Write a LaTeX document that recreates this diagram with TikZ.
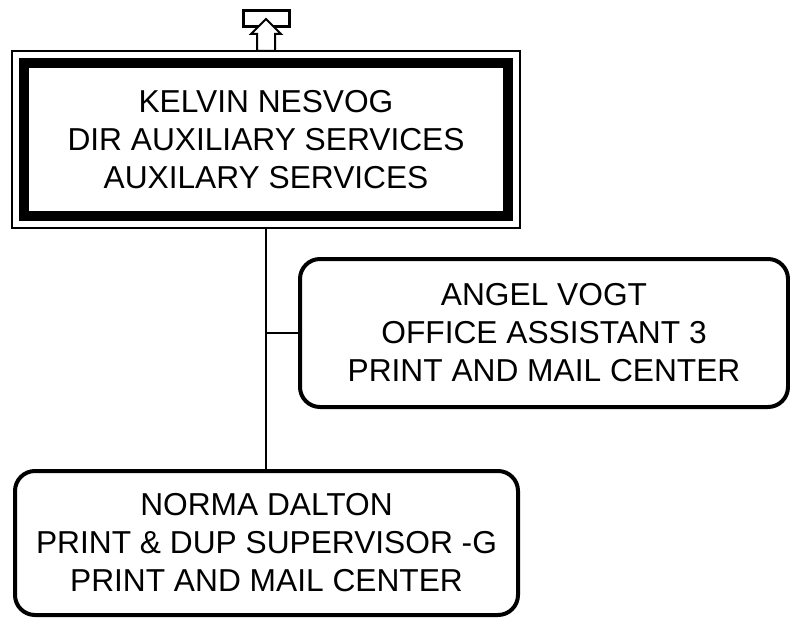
\documentclass[tikz,border=0pt]{standalone}
\usepackage{fontspec}
\setmainfont{Liberation Sans}
\usepackage{tikz}
\usetikzlibrary{
  arrows.meta,
  positioning,
  calc
}

\begin{document}
\begin{tikzpicture}[x=1pt,y=-1pt,
    person/.style={draw,fill=white,outer sep=0pt,inner sep=0pt,align=center,
      font=\fontsize{31.7}{38}\selectfont},
    headbox/.style={person,line width=10pt,minimum width=484pt,minimum height=153pt},
    staffbox/.style={person,line width=4pt,rounded corners=20pt,minimum height=148pt},
    link/.style={line width=2pt}]
  \useasboundingbox (0,0) rectangle (790,618);
  % connectors
  \coordinate (kelvinout) at (266,228);
  \draw[link] (kelvinout) -- (266,471) coordinate (normatop);
  % head of unit
  \node[headbox] (kelvin) at (266,139.5)
    {KELVIN NESVOG\\DIR AUXILIARY SERVICES\\AUXILARY SERVICES};
  \draw[line width=2pt] ([shift={(-12,-12)}]kelvin.north west)
    rectangle ([shift={(12,12)}]kelvin.south east);
  % staff
  \node[staffbox,minimum width=488pt] (angel) at (544,333)
    {ANGEL VOGT\\OFFICE ASSISTANT 3\\PRINT AND MAIL CENTER};
  \node[staffbox,minimum width=503pt,minimum height=144pt] (norma) at (266.5,543)
    {NORMA DALTON\\PRINT \& DUP SUPERVISOR -G\\PRINT AND MAIL CENTER};
  \draw[link] (kelvinout |- angel.west) -- (angel.west);
  % up arrow to parent
  \node[draw,fill=white,line width=2.5pt,minimum width=46pt,minimum height=16pt,
    inner sep=0pt] (upbox) at (266.5,18.5) {};
  \coordinate (kelvintop) at ([shift={(0,-12)}]kelvin.north);
  \draw[line width=2pt,fill=white,line join=miter] (kelvintop) ++(-9,0) -- ++(0,-17)
    -- ++(-6,0) -- ++(15,-15) -- ++(15,15) -- ++(-6,0) -- ++(0,17) -- cycle;
\end{tikzpicture}
\end{document}
